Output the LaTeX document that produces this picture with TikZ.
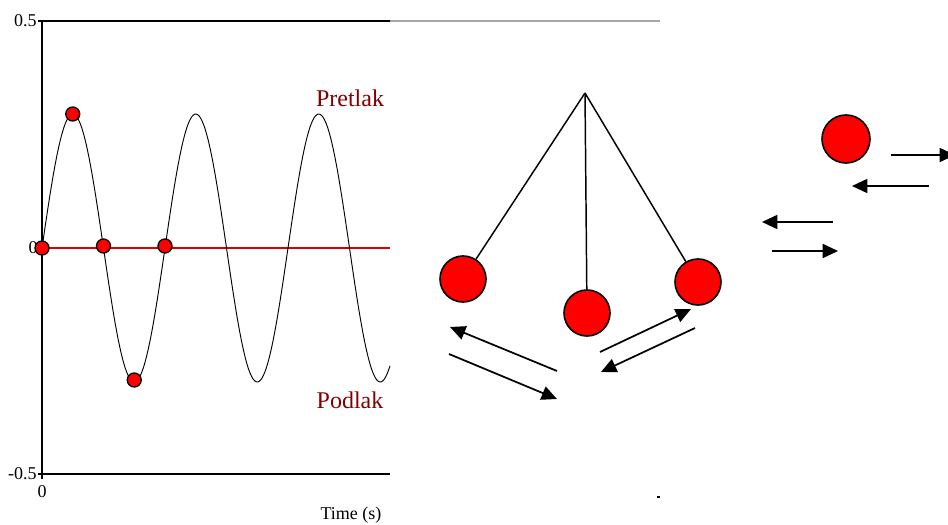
\documentclass[tikz,border=0pt]{standalone}
\usepackage{fontspec}
\setmainfont{Liberation Serif}
\usetikzlibrary{arrows.meta}
\definecolor{darkred}{RGB}{128,0,0}
\tikzset{
  ball/.style={circle, draw=black, fill=red, line width=1.2pt, minimum size=34.5pt, inner sep=0pt},
  dot/.style={circle, draw=black, fill=red, line width=1pt, minimum size=10.5pt, inner sep=0pt},
  mv/.style={line width=1.3pt, -{Triangle[length=11.5pt,width=10.5pt]}},
  axis/.style={line width=0.9pt},
  tick/.style={font=\fontsize{13.5}{15}\selectfont, inner sep=0pt},
  label/.style={font=\fontsize{18}{20}\selectfont, text=darkred, inner sep=0pt},
  rope/.style={line width=1.1pt}
}
\begin{document}
\begin{tikzpicture}[x=0.75pt,y=-0.75pt]
\useasboundingbox (0,0) rectangle (948,524);
% axes
\coordinate (o) at (42,248);
\coordinate (top) at (42,21);
\coordinate (bot) at (42,474);
\draw[axis] (top) -- (bot);
\draw[axis] (38,21) -- (390,21);
\draw[gray!70, line width=0.8pt] (390,21) -- (660,21);
\draw[axis] (38,474) -- (390,474);
\draw[axis] (42,474) -- (42,479);
\draw[red!85!black, line width=0.8pt] (o) -- (390,248);
\node[tick, anchor=east] (l05) at (37,21) {0.5};
\node[tick, anchor=east] (lm05) at (37,474) {-0.5};
\node[tick, anchor=east] (l0) at (38,248) {0};
\node[tick] (t0) at (42,492) {0};
\node[tick] (time) at (351,515) {Time (s)};
% sine
\draw[line width=0.7pt] plot[domain=42:390, samples=240, smooth] (\x, {248-134*sin((\x-42)*2.926829)});
\node[dot] (d1) at (42,248) {};
\node[dot] (d2) at (72.75,114) {};
\node[dot] (d3) at (103.5,246) {};
\node[dot] (d4) at (134.25,380) {};
\node[dot] (d5) at (165,246) {};
\node[label] (pre) at (350,98) {Pretlak};
\node[label] (pod) at (350,400) {Podlak};
% pendulum
\coordinate (piv) at (585,93);
\node[ball] (bl) at (463,279) {};
\node[ball] (bc) at (587,313) {};
\node[ball] (br) at (698,282) {};
\draw[rope] (piv) -- (bl);
\draw[rope] (piv) -- (bc);
\draw[rope] (piv) -- (br);
\coordinate (a1s) at (557,371); \coordinate (a1e) at (450,327);
\coordinate (a2s) at (449,354); \coordinate (a2e) at (557,399);
\coordinate (a3s) at (600,352); \coordinate (a3e) at (691,309);
\coordinate (a4s) at (695,328); \coordinate (a4e) at (601,372);
\draw[mv] (a1s) -- (a1e);
\draw[mv] (a2s) -- (a2e);
\draw[mv] (a3s) -- (a3e);
\draw[mv] (a4s) -- (a4e);
% right side
\node[ball, minimum size=36pt] (bx) at (846,139) {};
\coordinate (b1s) at (891,155); \coordinate (b1e) at (955,155);
\coordinate (b2s) at (929,186); \coordinate (b2e) at (852,186);
\coordinate (b3s) at (833,222); \coordinate (b3e) at (762,222);
\coordinate (b4s) at (772,251); \coordinate (b4e) at (838,251);
\draw[mv] (b1s) -- (b1e);
\draw[mv] (b2s) -- (b2e);
\draw[mv] (b3s) -- (b3e);
\draw[mv] (b4s) -- (b4e);
\fill (656.5,496) rectangle (659.5,498);
\end{tikzpicture}
\end{document}
